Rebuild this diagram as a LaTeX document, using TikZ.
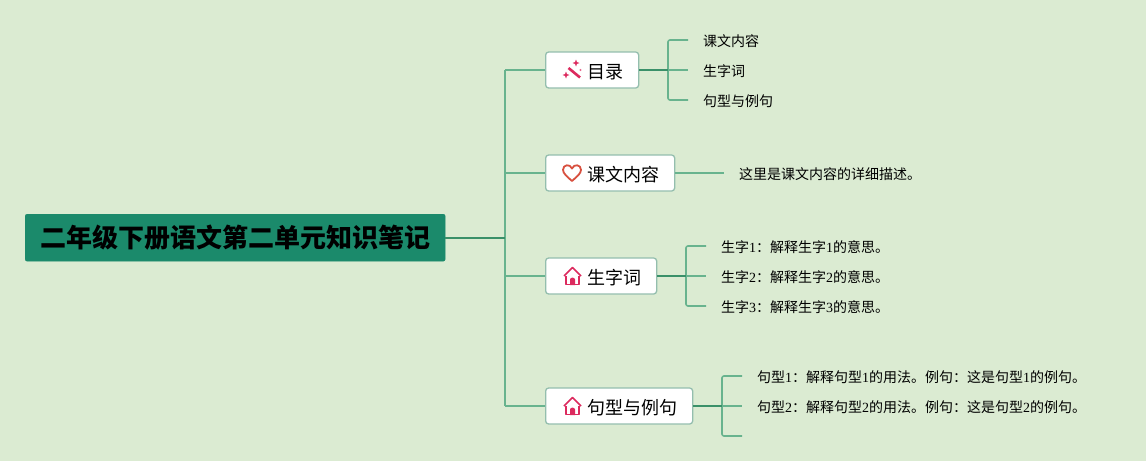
\documentclass[tikz,border=0pt]{standalone}
\usepackage{fontspec}
\setmainfont{Liberation Serif}
\newfontfamily\cjk{Noto Sans CJK SC}
\definecolor{bgc}{HTML}{DBEBD2}
\definecolor{rootc}{HTML}{1B8A6B}
\definecolor{linec}{HTML}{68B38E}
\definecolor{darkline}{HTML}{3A9069}
\definecolor{boxline}{HTML}{94BEAE}
\definecolor{pinkc}{HTML}{DC2A5E}
\definecolor{heartc}{HTML}{D8503F}
\newcommand{\zh}[1]{{\cjk #1}}
\tikzset{
  x=1pt,y=-1pt,
  rootbox/.style={fill=rootc,draw=rootc,rounded corners=2pt,inner sep=0pt,minimum width=420pt,minimum height=47pt,anchor=north west,font=\cjk\bfseries\fontsize{26}{30}\selectfont,text=black},
  topicbox/.style={fill=white,draw=boxline,line width=1.3pt,rounded corners=3pt,inner sep=0pt,minimum height=36pt,text height=16pt,text depth=0pt,anchor=west,font=\cjk\fontsize{18}{22}\selectfont,text=black},
  leaf/.style={inner sep=0pt,anchor=base west,font=\fontsize{14}{16}\selectfont,text=black},
  thin link/.style={draw=linec,line width=1.6pt,rounded corners=2pt},
  thick link/.style={draw=darkline,line width=2pt},
  icon/.style={draw=pinkc,line width=1.5pt,line join=round},
}
\newcommand{\topic}[1]{\hspace*{42pt}#1\hspace*{15pt}}
\newcommand{\house}[2]{%
  \draw[icon] (#1-6.5,#2) -- (#1-6.5,#2+8.5) -- (#1+6.5,#2+8.5) -- (#1+6.5,#2);
  \draw[icon] (#1-8.5,#2) -- (#1,#2-8.5) -- (#1+8.5,#2);
  \fill[pinkc] (#1-2.5,#2+9) -- (#1-2.5,#2+3.5) .. controls (#1-2.5,#2+1) and (#1+2.5,#2+1) .. (#1+2.5,#2+3.5) -- (#1+2.5,#2+9) -- cycle;
}
\begin{document}
\begin{tikzpicture}
\useasboundingbox (0,0) rectangle (1146,461);
\fill[bgc] (0,0) rectangle (1146,461);

% nodes
\node[rootbox] (root) at (25,214) {二年级下册语文第二单元知识笔记};
\node[topicbox] (t1) at (545,70) {\topic{目录}};
\node[topicbox] (t2) at (545,173) {\topic{课文内容}};
\node[topicbox] (t3) at (545,276) {\topic{生字词}};
\node[topicbox] (t4) at (545,406) {\topic{句型与例句}};

\node[leaf] (a1) at (703,46) {\zh{课文内容}};
\node[leaf] (a2) at (703,76) {\zh{生字词}};
\node[leaf] (a3) at (703,106) {\zh{句型与例句}};
\node[leaf] (b1) at (739,179) {\zh{这里是课文内容的详细描述。}};
\node[leaf] (c1) at (721,252) {\zh{生字}1\zh{：解释生字}1\zh{的意思。}};
\node[leaf] (c2) at (721,282) {\zh{生字}2\zh{：解释生字}2\zh{的意思。}};
\node[leaf] (c3) at (721,312) {\zh{生字}3\zh{：解释生字}3\zh{的意思。}};
\node[leaf] (d1) at (757,382) {\zh{句型}1\zh{：解释句型}1\zh{的用法。例句：这是句型}1\zh{的例句。}};
\node[leaf] (d2) at (757,412) {\zh{句型}2\zh{：解释句型}2\zh{的用法。例句：这是句型}2\zh{的例句。}};

% junction coordinates
\coordinate (trunk) at (505,238);
\coordinate (ja) at (668,70);
\coordinate (jb) at (724,173);
\coordinate (jc) at (686,276);
\coordinate (jd) at (722,406);
\coordinate (a1e) at (688,40);
\coordinate (a2e) at (688,70);
\coordinate (a3e) at (688,100);
\coordinate (c1e) at (706,246);
\coordinate (c2e) at (706,276);
\coordinate (c3e) at (706,306);
\coordinate (d1e) at (742,376);
\coordinate (d2e) at (742,406);
\coordinate (d3e) at (742,436);

% root to topics
\draw[thin link] (trunk |- t1.west) -- (trunk |- t4.west);
\draw[thin link] (trunk |- t1.west) -- (t1.west);
\draw[thin link] (trunk |- t2.west) -- (t2.west);
\draw[thin link] (trunk |- t3.west) -- (t3.west);
\draw[thin link] (trunk |- t4.west) -- (t4.west);
\draw[thick link,line width=1.6pt] (root.east |- trunk) -- (trunk);

% topic 1
\draw[thin link] (a1e) -| (ja) |- (a3e);
\draw[thin link] (ja) -- (a2e);
\draw[thick link] (t1.east) -- (ja);
% topic 2
\draw[thin link] (t2.east) -- (jb);
% topic 3
\draw[thin link] (c1e) -| (jc) |- (c3e);
\draw[thin link] (jc) -- (c2e);
\draw[thick link] (t3.east) -- (jc);
% topic 4
\draw[thin link] (d1e) -| (jd) |- (d3e);
\draw[thin link] (jd) -- (d2e);
\draw[thick link] (t4.east) -- (jd);

% icons
\draw[pinkc,line width=2.6pt] (568.5,68) -- (580,77.5);
\fill[pinkc] (576,59.5) -- (576.9,62.1) -- (579.5,63) -- (576.9,63.9) -- (576,66.5) -- (575.1,63.9) -- (572.5,63) -- (575.1,62.1) -- cycle;
\fill[pinkc] (566,71.5) -- (566.9,74.1) -- (569.5,75) -- (566.9,75.9) -- (566,78.5) -- (565.1,75.9) -- (562.5,75) -- (565.1,74.1) -- cycle;
\fill[pinkc!70] (580.5,70) circle[radius=1.1];
\draw[heartc,line width=1.8pt,line join=round] (572,181) .. controls (567,176.5) and (563,173.5) .. (563,169.8) .. controls (563,164.5) and (570,163.5) .. (572,168.5) .. controls (574,163.5) and (581,164.5) .. (581,169.8) .. controls (581,173.5) and (577,176.5) .. (572,181) -- cycle;
\house{572.5}{276}
\house{572.5}{406}
\end{tikzpicture}
\end{document}
